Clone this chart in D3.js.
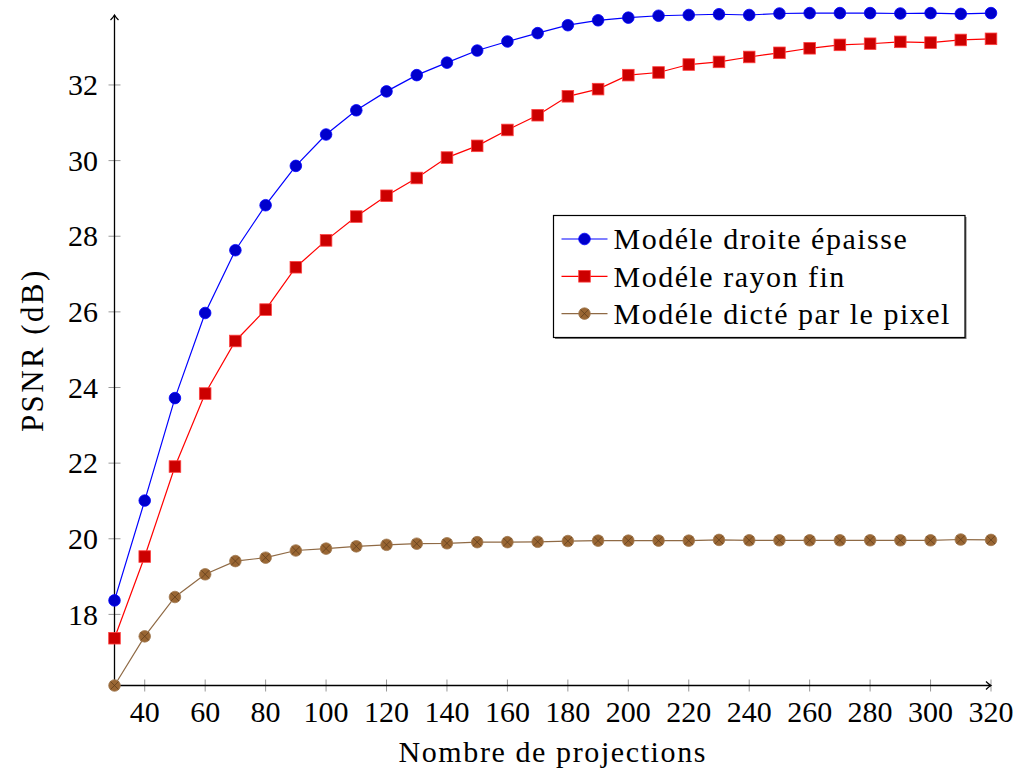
<!DOCTYPE html>
<html lang="fr">
  <head>
    <meta charset="utf-8">
    <title>PSNR vs projections</title>
    <script src="https://d3js.org/d3.v7.min.js"></script>
    <style>
      body { margin: 0; background: #fff; }
    </style>
  </head>
  <body>
    <script type="text/javascript">

      var w = 1018;
      var h = 771;

      // nombre de projections
      var projections = [30, 40, 50, 60, 70, 80, 90, 100, 110, 120, 130, 140, 150, 160, 170,
                         180, 190, 200, 210, 220, 230, 240, 250, 260, 270, 280, 290, 300, 310, 320];

      var droiteEpaisse = [18.37, 21.01, 23.72, 25.97, 27.63, 28.82, 29.86, 30.69, 31.33, 31.83,
                           32.26, 32.59, 32.91, 33.15, 33.37, 33.58, 33.71, 33.78, 33.83, 33.85,
                           33.87, 33.85, 33.89, 33.90, 33.90, 33.90, 33.89, 33.90, 33.88, 33.90];

      var rayonFin = [17.37, 19.53, 21.91, 23.84, 25.23, 26.06, 27.18, 27.89, 28.52, 29.07,
                      29.54, 30.08, 30.39, 30.81, 31.20, 31.70, 31.89, 32.26, 32.33, 32.54,
                      32.61, 32.74, 32.85, 32.97, 33.06, 33.09, 33.14, 33.12, 33.19, 33.22];

      var dictePixel = [16.12, 17.42, 18.46, 19.06, 19.41, 19.50, 19.69, 19.74, 19.80, 19.84,
                        19.87, 19.88, 19.91, 19.91, 19.92, 19.94, 19.95, 19.95, 19.95, 19.95,
                        19.97, 19.96, 19.96, 19.96, 19.96, 19.96, 19.96, 19.96, 19.98, 19.97];

      var xTicks = [40, 60, 80, 100, 120, 140, 160, 180, 200, 220, 240, 260, 280, 300, 320];
      var yTicks = [18, 20, 22, 24, 26, 28, 30, 32];

      var seriesNames = ["Modéle droite épaisse", "Modéle rayon fin", "Modéle dicté par le pixel"];

      var series = [
        {name: seriesNames[0], values: droiteEpaisse, line: "#0000ff", fill: "#0000cc", mark: "circle"},
        {name: seriesNames[1], values: rayonFin, line: "#ff0000", fill: "#cc0000", mark: "square"},
        {name: seriesNames[2], values: dictePixel, line: "#8f6a45", fill: "#996633", mark: "otimes"}
      ];

      var font = "'Liberation Serif', 'Times New Roman', 'DejaVu Serif', serif";
      var fontSize = 30;

      var svg = d3.select("body")
          .append("svg")
          .attr("width", w)
          .attr("height", h)
          .attr("font-family", font)
          .attr("font-size", fontSize);

      var xscale = d3.scaleLinear()
          .domain([30, 320])
          .range([114.5, 991]);

      var yscale = d3.scaleLinear()
          .domain([16.12, 33.85])
          .range([685.5, 15]);

      // ticks (gray, crossing the axis)
      svg.append("g").selectAll("line")
        .data(xTicks)
        .enter().append("line")
          .attr("x1", d => xscale(d)).attr("x2", d => xscale(d))
          .attr("y1", yscale(16.12) - 6).attr("y2", yscale(16.12) + 6)
          .attr("stroke", "#999").attr("stroke-width", 1);

      svg.append("g").selectAll("line")
        .data(yTicks)
        .enter().append("line")
          .attr("x1", xscale(30) - 6).attr("x2", xscale(30) + 6)
          .attr("y1", d => yscale(d)).attr("y2", d => yscale(d))
          .attr("stroke", "#999").attr("stroke-width", 1);

      // tick labels
      svg.append("g").selectAll("text")
        .data(xTicks)
        .enter().append("text")
          .attr("x", d => xscale(d))
          .attr("y", 722)
          .attr("text-anchor", "middle")
          .text(d => d);

      svg.append("g").selectAll("text")
        .data(yTicks)
        .enter().append("text")
          .attr("x", 98)
          .attr("y", d => yscale(d))
          .attr("dy", "0.34em")
          .attr("text-anchor", "end")
          .text(d => d);

      // axes with arrows
      svg.append("defs").append("marker")
          .attr("id", "arrow")
          .attr("viewBox", "-6 -5 8 10")
          .attr("markerWidth", 8).attr("markerHeight", 10)
          .attr("refX", 0).attr("refY", 0)
          .attr("markerUnits", "userSpaceOnUse")
          .attr("orient", "auto")
        .append("path")
          .attr("d", "M-5,-4 Q-2,-1 0,0 Q-2,1 -5,4")
          .attr("fill", "none")
          .attr("stroke", "#000")
          .attr("stroke-width", 1.2);

      svg.append("line")
          .attr("x1", xscale(30)).attr("x2", xscale(320))
          .attr("y1", yscale(16.12)).attr("y2", yscale(16.12))
          .attr("stroke", "#000").attr("stroke-width", 1.3)
          .attr("marker-end", "url(#arrow)");

      svg.append("line")
          .attr("x1", xscale(30)).attr("x2", xscale(30))
          .attr("y1", yscale(16.12)).attr("y2", yscale(33.85))
          .attr("stroke", "#000").attr("stroke-width", 1.3)
          .attr("marker-end", "url(#arrow)");

      // axis titles (Times is narrower than the original CM font, so space it out a bit)
      svg.append("text")
          .attr("x", (xscale(30) + xscale(320)) / 2)
          .attr("y", 762)
          .attr("text-anchor", "middle")
          .attr("letter-spacing", 1.6)
          .text("Nombre de projections");

      svg.append("text")
          .attr("transform", "translate(43," + (yscale(16.12) + yscale(33.85)) / 2 + ") rotate(-90)")
          .attr("text-anchor", "middle")
          .attr("font-size", 31)
          .attr("letter-spacing", 2.4)
          .text("PSNR (dB)");

      function drawMark(g, type, fill, line) {
        if (type === "circle") {
          g.append("circle").attr("r", 5.8)
            .attr("fill", fill).attr("stroke", line).attr("stroke-width", 0.8);
        } else if (type === "square") {
          g.append("rect").attr("x", -5.8).attr("y", -5.8)
            .attr("width", 11.6).attr("height", 11.6)
            .attr("fill", fill).attr("stroke", "#ff4040").attr("stroke-width", 0.8);
        } else {
          g.append("circle").attr("r", 5.8)
            .attr("fill", fill).attr("stroke", "#a07850").attr("stroke-width", 0.8);
          g.append("path")
            .attr("d", "M-4.1,-4.1L4.1,4.1M-4.1,4.1L4.1,-4.1")
            .attr("stroke", "#5a3a1a").attr("stroke-width", 0.7);
        }
      }

      var line = d3.line()
          .x(d => xscale(d[0]))
          .y(d => yscale(d[1]));

      series.forEach(function(s) {
        var pts = projections.map((p, i) => [p, s.values[i]]);
        svg.append("path")
            .datum(pts)
            .attr("d", line)
            .attr("fill", "none")
            .attr("stroke", s.line)
            .attr("stroke-width", 1.2);

        svg.append("g").selectAll("g")
          .data(pts)
          .enter().append("g")
            .attr("transform", d => "translate(" + xscale(d[0]) + "," + yscale(d[1]) + ")")
            .each(function() { drawMark(d3.select(this), s.mark, s.fill, s.line); });
      });

      // legend
      var leg = svg.append("g").attr("transform", "translate(553.5,215.5)");

      leg.append("rect")
          .attr("x", 1.5).attr("y", 1.5)
          .attr("width", 411.5).attr("height", 122)
          .attr("fill", "#777");
      leg.append("rect")
          .attr("width", 411.5).attr("height", 122)
          .attr("fill", "#fff").attr("stroke", "#000").attr("stroke-width", 1.2);

      var rows = leg.selectAll("g.row")
          .data(series)
          .enter().append("g")
            .attr("class", "row")
            .attr("transform", (d, i) => "translate(0," + (23.5 + i * 37.3) + ")");

      rows.append("line")
          .attr("x1", 8).attr("x2", 54)
          .attr("stroke", d => d.line).attr("stroke-width", 1.2);

      rows.append("g")
          .attr("transform", "translate(31,0)")
          .each(function(d) { drawMark(d3.select(this), d.mark, d.fill, d.line); });

      rows.append("text")
          .attr("x", 60)
          .attr("dy", "0.34em")
          .attr("letter-spacing", 1.5)
          .text(d => d.name);

    </script>
  </body>
</html>
